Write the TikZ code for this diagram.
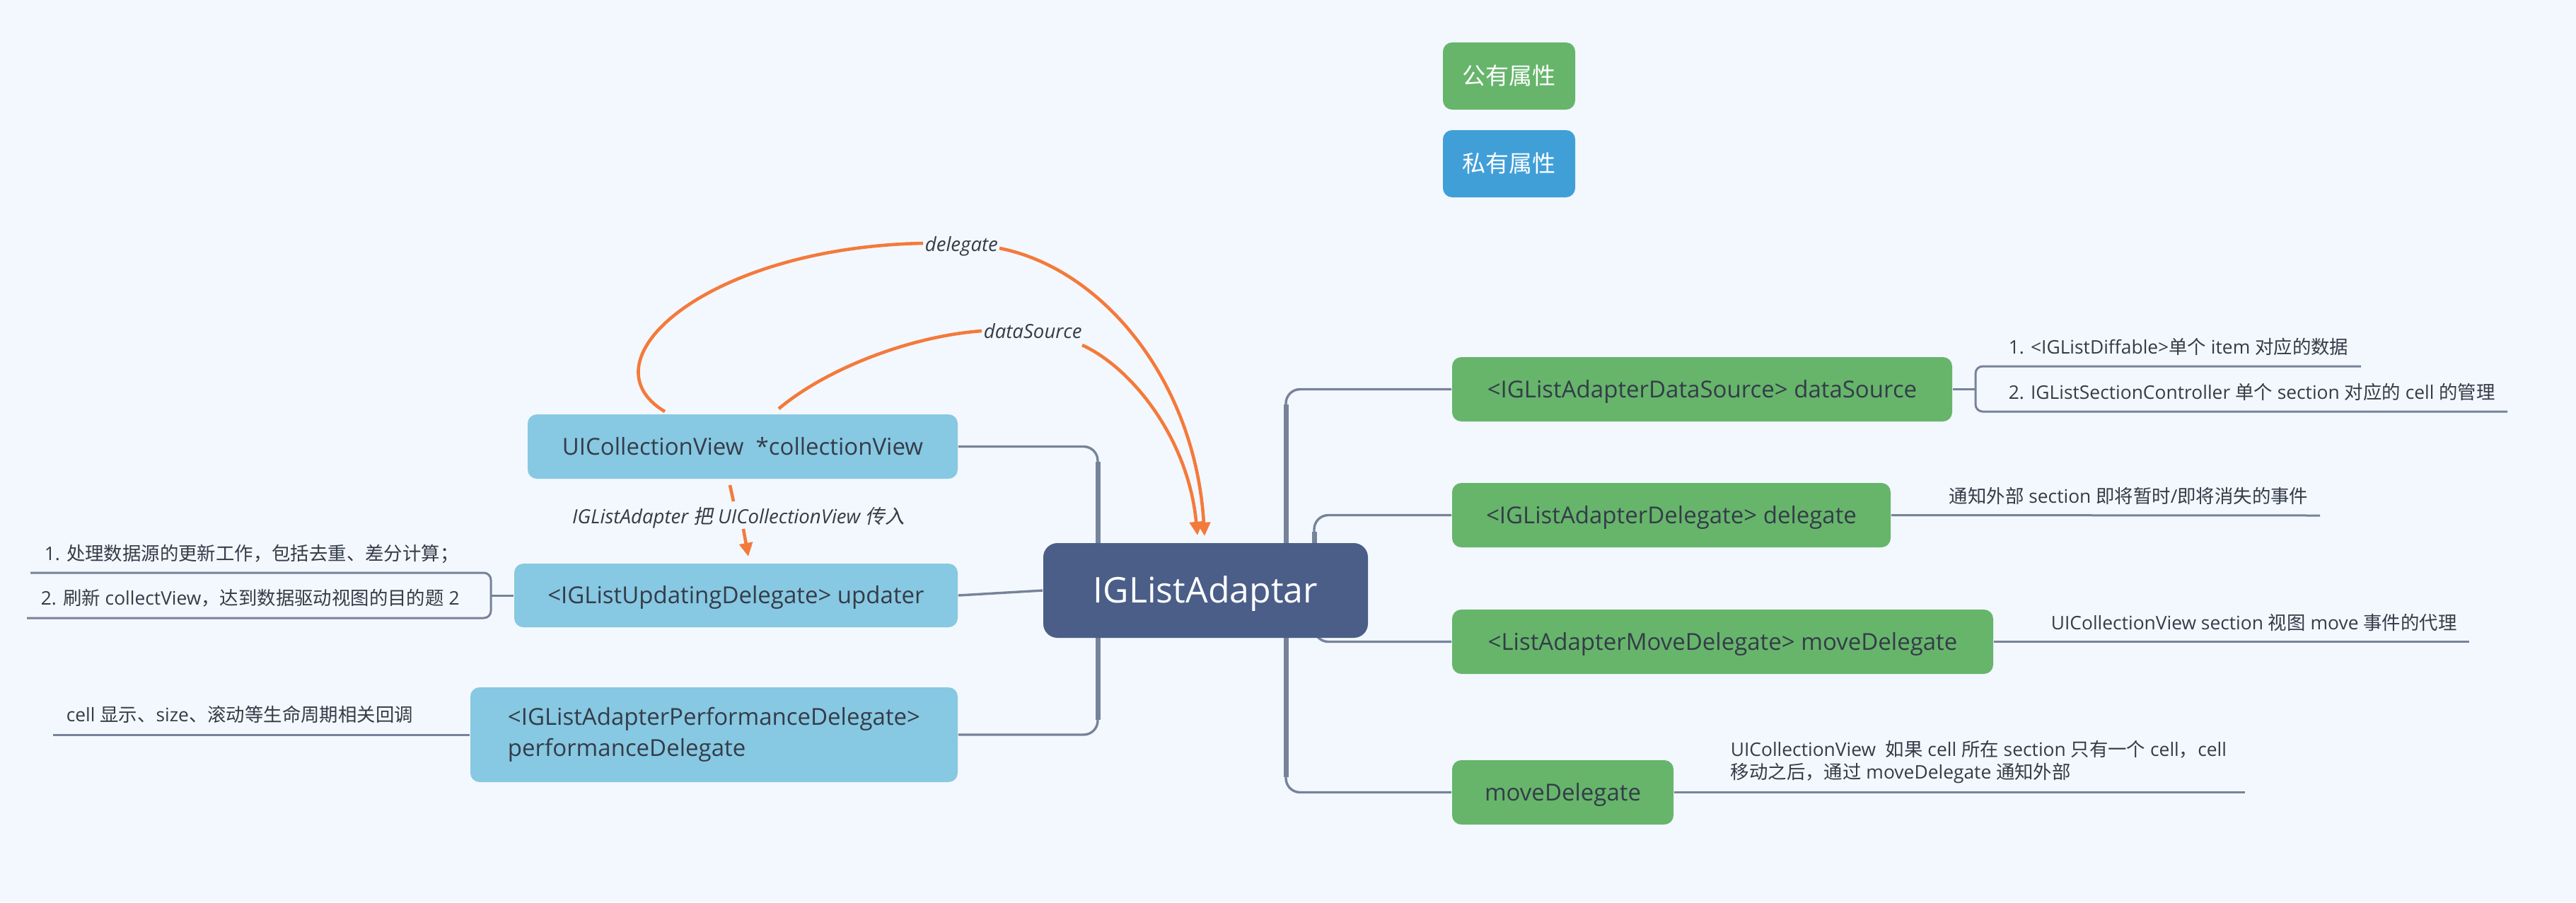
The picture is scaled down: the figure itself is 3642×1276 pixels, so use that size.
\documentclass[tikz,border=0pt]{standalone}
\usepackage{fontspec}
\setmainfont{Open Sans}
\newfontfamily\cjk{Noto Sans CJK SC}
\newfontfamily\cjki[FakeSlant=0.2]{Noto Sans CJK SC}
\usetikzlibrary{arrows.meta}
\newcommand\zh[1]{{\cjk #1}}
\newcommand\zhi[1]{{\cjki #1}}
\newcommand\boxfont{\fontsize{8.25pt}{11pt}\selectfont}
\newcommand\leaffont{\fontsize{6.6pt}{8pt}\selectfont}
\newcommand\cfont{\fontsize{12.5pt}{15pt}\selectfont}
\newcommand\labfont{\fontsize{6.9pt}{8pt}\selectfont\itshape}
\definecolor{bgc}{HTML}{F3F8FE}
\definecolor{lblue}{HTML}{87C8E2}
\definecolor{pgreen}{HTML}{66B56B}
\definecolor{pblue}{HTML}{419FD8}
\definecolor{navy}{HTML}{4A5E88}
\definecolor{gline}{HTML}{76839A}
\definecolor{orng}{HTML}{F47A3B}
\definecolor{txt}{HTML}{343C48}
\pgfdeclarelayer{canvas}
\pgfdeclarelayer{lines}
\pgfsetlayers{canvas,lines,main}
\begin{document}
\begin{tikzpicture}[x=0.25pt,y=-0.25pt,
  basebox/.style={rounded corners=3.25pt, inner sep=0pt, text=txt, font=\boxfont},
  onebox/.style={basebox, text height=5.9pt, text depth=0pt},
  bluebox/.style={onebox, fill=lblue},
  greenbox/.style={onebox, fill=pgreen},
  centralbox/.style={rounded corners=5pt, inner sep=0pt, fill=navy, text=white, font=\cfont, text height=8.9pt, text depth=0pt},
  legendbox/.style={onebox, text=white},
  leaf/.style={inner sep=0pt, anchor=base west, text=txt, font=\leaffont},
  rlabel/.style={inner sep=0pt, anchor=base west, text=txt, font=\labfont},
  br/.style={draw=gline, line width=0.85pt, rounded corners=5pt},
  brk/.style={draw=gline, line width=1.75pt},
  leafline/.style={draw=gline, line width=0.75pt, rounded corners=2.5pt},
  rel/.style={draw=orng, line width=1.15pt},
  relarrow/.style={rel, -{Triangle[length=4.8pt,width=4.6pt]}}
]
\useasboundingbox (0,0) rectangle (3642,1276);
\begin{pgfonlayer}{canvas}
\fill[bgc] (0,0) rectangle (3642,1276);
\end{pgfonlayer}

% legend
\node[legendbox, fill=pgreen, minimum width=187*0.25pt, minimum height=95*0.25pt] (pub) at (2133.5,107.5) {\zh{公有属性}};
\node[legendbox, fill=pblue, minimum width=187*0.25pt, minimum height=95*0.25pt] (priv) at (2133.5,231.5) {\zh{私有属性}};

% central
\node[centralbox, minimum width=459*0.25pt, minimum height=134*0.25pt] (ad) at (1704.5,835) {IGListAdaptar};

% left boxes
\node[bluebox, minimum width=608*0.25pt, minimum height=91*0.25pt] (cv) at (1050,631.5) {UICollectionView~ *collectionView};
\node[bluebox, minimum width=627*0.25pt, minimum height=90*0.25pt] (up) at (1040.5,842) {<IGListUpdatingDelegate> updater};
\node[basebox, fill=lblue, align=left, minimum width=689*0.25pt, minimum height=134*0.25pt] (pf) at (1009.5,1039) {<IGListAdapterPerformanceDelegate>\\performanceDelegate};

% right boxes
\node[greenbox, minimum width=707*0.25pt, minimum height=91*0.25pt] (ds) at (2406.5,550.5) {<IGListAdapterDataSource> dataSource};
\node[greenbox, minimum width=620*0.25pt, minimum height=91*0.25pt] (dl) at (2363,728.5) {<IGListAdapterDelegate> delegate};
\node[greenbox, minimum width=765*0.25pt, minimum height=91*0.25pt] (mv) at (2435.5,907.5) {<ListAdapterMoveDelegate> moveDelegate};
\node[greenbox, minimum width=313*0.25pt, minimum height=91*0.25pt] (md) at (2209.5,1120.5) {moveDelegate};

% leaf texts
\node[leaf] (ds1) at (2839,500) {1. <IGListDiffable>\zh{单个} item \zh{对应的数据}};
\node[leaf] (ds2) at (2839,564) {2. IGListSectionController \zh{单个} section \zh{对应的} cell \zh{的管理}};
\node[leaf] (dl1) at (2755,711) {\zh{通知外部} section \zh{即将暂时}/\zh{即将消失的事件}};
\node[leaf] (mv1) at (2899,890) {UICollectionView section \zh{视图} move \zh{事件的代理}};
\node[leaf] (md1) at (2446,1069) {UICollectionView~ \zh{如果} cell \zh{所在} section \zh{只有一个} cell\zh{，}cell};
\node[leaf] (md2) at (2446,1101) {\zh{移动之后，通过} moveDelegate \zh{通知外部}};
\node[leaf] (up1) at (62,792) {1. \zh{处理数据源的更新工作，包括去重、差分计算；}};
\node[leaf] (up2) at (57,855) {2. \zh{刷新} collectView\zh{，达到数据驱动视图的目的题} 2};
\node[leaf] (pf1) at (93,1020) {cell \zh{显示、}size\zh{、滚动等生命周期相关回调}};

% relationship labels
\node[rlabel] (dlab) at (1307,355) {delegate};
\node[rlabel] (slab) at (1390,478) {dataSource};
\node[rlabel, anchor=base] (ilab) at (1044,740) {IGListAdapter \zhi{把} UICollectionView \zhi{传入}};

% coordinates
\coordinate (rA1) at (1818,790);
\coordinate (rA2) at (1818,572);
\coordinate (rB1) at (1858,790);
\coordinate (rB2) at (1858,752);
\coordinate (rC1) at (1858,880);
\coordinate (rD1) at (1818,880);
\coordinate (rD2) at (1818,1099);
\coordinate (lA1) at (1552,790);
\coordinate (lA2) at (1552,653);
\coordinate (lB1) at (1552,880);
\coordinate (lB2) at (1552,1018);

\coordinate (dsF) at (2793,550.5);
\coordinate (dsT) at (3338,518);
\coordinate (dsB) at (3545,582);
\coordinate (dlE) at (3280,729);
\coordinate (mvE) at (3491,907.5);
\coordinate (mdE) at (3174,1120.5);
\coordinate (upF) at (694,842);
\coordinate (upT) at (43,810);
\coordinate (upB) at (38,874);
\coordinate (pfE) at (75,1039);

\coordinate (dS) at (940,582);
\coordinate (dL) at (1305,344);
\coordinate (dR) at (1413,351);
\coordinate (dE) at (1703,758);
\coordinate (sS) at (1101,578);
\coordinate (sL) at (1388,468);
\coordinate (sR) at (1530,488);
\coordinate (sE) at (1693,757);
\coordinate (iS) at (1032,686);
\coordinate (iL) at (1037,709);
\coordinate (iR) at (1051,748);
\coordinate (iE) at (1058,787);

\begin{pgfonlayer}{lines}
% branches right
\draw[br] (rA1) |- (ds.west);
\draw[brk] (rA1) -- (rA2);
\draw[br] (rB1) |- (dl.west);
\draw[brk] (rB1) -- (rB2);
\draw[br] (rC1) |- (mv.west);
\draw[br] (rD1) |- (md.west);
\draw[brk] (rD1) -- (rD2);
% branches left
\draw[br] (cv.east) -| (lA1);
\draw[brk] (lA2) -- (lA1);
\draw[br] (up.east) -- (ad.west);
\draw[br] (pf.east) -| (lB1);
\draw[brk] (lB2) -- (lB1);
% leaf lines
\draw[leafline] (ds.east) -- (dsF);
\draw[leafline] (dsT) -| (dsF) |- (dsB);
\draw[leafline] (dl.east) -- (dlE);
\draw[leafline] (mv.east) -- (mvE);
\draw[leafline] (md.east) -- (mdE);
\draw[leafline] (up.west) -- (upF);
\draw[leafline] (upT) -| (upF) |- (upB);
\draw[leafline] (pf.west) -- (pfE);
% relationships
\draw[rel] (dS) .. controls (820,510) and (1000,350) .. (dL);
\draw[relarrow] (dR) .. controls (1560,380) and (1690,540) .. (dE);
\draw[rel] (sS) .. controls (1170,520) and (1290,475) .. (sL);
\draw[relarrow] (sR) .. controls (1600,520) and (1680,620) .. (sE);
\draw[rel] (iS) -- (iL);
\draw[relarrow] (iR) -- (iE);
\end{pgfonlayer}
\end{tikzpicture}
\end{document}
